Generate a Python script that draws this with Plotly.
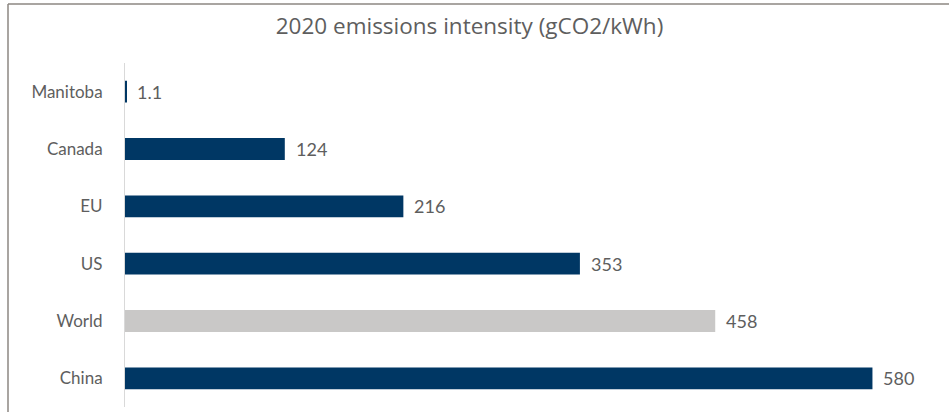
import plotly.graph_objects as go

categories = ["Manitoba", "Canada", "EU", "US", "World", "China"]
values = [1.1, 124, 216, 353, 458, 580]
value_labels = ["1.1", "124", "216", "353", "458", "580"]
colors = ["#003764", "#003764", "#003764", "#003764", "#C9C8C7", "#003764"]

title_text = "2020 emissions intensity (gCO2/kWh)"
text_color = "#5E5E5E"

fig = go.Figure()
fig.add_trace(go.Bar(
    y=categories,
    x=values,
    orientation="h",
    marker=dict(color=colors, line=dict(width=0)),
    hoverinfo="skip",
))

for c, v, t in zip(categories, values, value_labels):
    fig.add_annotation(
        x=v, y=c, text=t, showarrow=False, xanchor="left", yanchor="middle",
        xshift=9, font=dict(family="Lato", size=18, color=text_color),
    )

# outer frame (top and left border)
fig.add_shape(type="line", xref="paper", yref="paper",
              xsizemode="pixel", ysizemode="pixel", xanchor=0, yanchor=1,
              x0=-117, x1=900, y0=59, y1=59,
              line=dict(color="#8C8782", width=1.5))
fig.add_shape(type="line", xref="paper", yref="paper",
              xsizemode="pixel", ysizemode="pixel", xanchor=0, yanchor=1,
              x0=-117, x1=-117, y0=59, y1=-400,
              line=dict(color="#8C8782", width=1.5))

fig.update_layout(
    width=949, height=412,
    margin=dict(l=125, r=25, t=63, b=5),
    paper_bgcolor="white", plot_bgcolor="white",
    bargap=0.62,
    showlegend=False,
    title=dict(text=title_text, xref="container", yref="container",
               x=469.5 / 949, y=1 - 26 / 412, xanchor="center", yanchor="middle",
               font=dict(family="Open Sans", size=22.5, color=text_color)),
    xaxis=dict(range=[0, 620], visible=False, fixedrange=True),
    yaxis=dict(autorange="reversed", showline=True, linecolor="#D9D9D9", linewidth=1,
               showgrid=False, zeroline=False, ticks="", ticklabelstandoff=18,
               tickfont=dict(family="Lato", size=17, color=text_color)),
)

fig.write_html("out.html")
